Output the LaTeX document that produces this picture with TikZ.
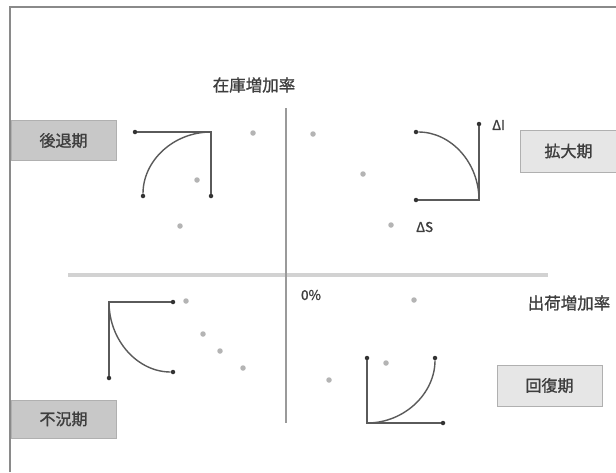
\documentclass[tikz,border=0pt]{standalone}
\usepackage{fontspec}
\newfontfamily\cjk[FakeBold=1.2,AutoFakeBold=1.2]{Noto Sans CJK JP}
\definecolor{frame}{HTML}{8A8A8A}
\definecolor{txt}{HTML}{3E3E3E}
\definecolor{fig}{HTML}{5A5A5A}
\definecolor{dotg}{HTML}{B4B4B4}
\definecolor{darkbox}{HTML}{C8C8C8}
\definecolor{lightbox}{HTML}{E6E6E6}
\definecolor{boxline}{HTML}{B0B0B0}
\definecolor{axisv}{HTML}{9A9A9A}
\definecolor{axish}{HTML}{D2D2D2}
\begin{document}
\begin{tikzpicture}[x=1pt,y=-1pt,
  lbl/.style={font=\cjk\bfseries\fontsize{16.5}{16.5}\selectfont, text=txt, inner sep=0pt},
  small/.style={font=\cjk\fontsize{13.5}{13.5}\selectfont, text=txt, inner sep=0pt},
  phase/.style={draw=boxline, line width=1pt, minimum height=40pt, inner sep=0pt, font=\cjk\bfseries\fontsize{16}{16}\selectfont, text=txt},
  darkph/.style={phase, fill=darkbox},
  lightph/.style={phase, fill=lightbox},
  figline/.style={draw=fig, line width=1.4pt},
  enddot/.style={circle, fill=black!80, inner sep=0pt, minimum size=4.5pt},
  gdot/.style={circle, fill=dotg, inner sep=0pt, minimum size=5.5pt}]
\useasboundingbox (0,0) rectangle (616,472);
\fill[white] (0,0) rectangle (616,472);
% frame
\draw[frame, line width=2pt] (10,472) -- (10,6.5) -- (616,6.5);
% axes
\draw[axish, line width=4pt] (68,275) -- (548,275);
\draw[axisv, line width=1.3pt] (286,108) -- (286,423);
% axis labels
\node[lbl] (ylab) at (254,85) {在庫増加率};
\node[lbl] (xlab) at (569,303) {出荷増加率};
\node[small] (zero) at (311,295) {0\%};
% phase boxes
\node[darkph, minimum width=105pt] (koutai) at (63.5,140.5) {後退期};
\node[darkph, minimum width=105pt, minimum height=38pt] (fukyou) at (63.5,419) {不況期};
\node[lightph, minimum width=97pt, minimum height=42pt] (kakudai) at (568.5,151) {拡大期};
\node[lightph, minimum width=105pt, minimum height=41pt] (kaifuku) at (549.5,385.5) {回復期};
% grey dots
\foreach \p/\n in {(253,133)/g1,(197,180)/g2,(180,226)/g3,(313,134)/g4,(363,174)/g5,(391,225)/g6,
                  (186,301)/g7,(203,334)/g8,(220,351)/g9,(243,368)/g10,
                  (414,300)/g11,(386,363)/g12,(329,380)/g13}
  \node[gdot] (\n) at \p {};
% upper-left figure
\coordinate (ulc) at (211,132);
\node[enddot] (ula) at (135,132) {};
\node[enddot] (ulb) at (143,196) {};
\node[enddot] (ulv) at (211,196) {};
\draw[figline] (ula) -- (ulc) -- (ulv);
\draw[figline] (ulc) .. controls (173.4,132) and (143,160.7) .. (ulb);
% upper-right figure
\coordinate (urc) at (479,200);
\node[enddot] (ura) at (416,132) {};
\node[enddot] (urh) at (416,200) {};
\node[enddot] (urv) at (479,124) {};
\draw[figline] (urh) -- (urc) -- (urv);
\draw[figline] (ura) .. controls (450.8,132) and (479,162.4) .. (urc);
\node[small, anchor=west] (dI) at (492,125) {ΔI};
\node[small, anchor=west] (dS) at (416,227) {ΔS};
% lower-left figure
\coordinate (llc) at (109,302);
\node[enddot] (llh) at (173,302) {};
\node[enddot] (llv) at (109,378) {};
\node[enddot] (llb) at (173,372) {};
\draw[figline] (llh) -- (llc) -- (llv);
\draw[figline] (llc) .. controls (109,340.7) and (137.8,372) .. (llb);
% lower-right figure
\coordinate (lrc) at (367,423);
\node[enddot] (lrv) at (367,358) {};
\node[enddot] (lrh) at (443,423) {};
\node[enddot] (lrb) at (435,358) {};
\draw[figline] (lrv) -- (lrc) -- (lrh);
\draw[figline] (lrc) .. controls (404.6,423) and (435,393.3) .. (lrb);
\end{tikzpicture}
\end{document}
